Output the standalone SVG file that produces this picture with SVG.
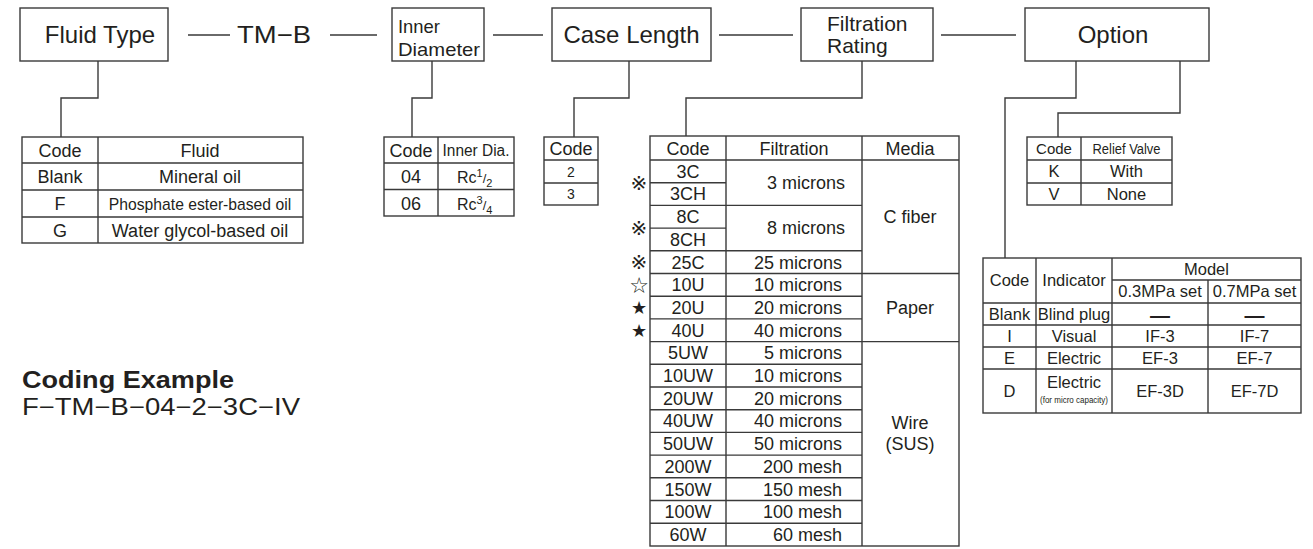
<svg xmlns="http://www.w3.org/2000/svg" width="1313" height="549" viewBox="0 0 1313 549">
<style>
.box{fill:#fff;stroke:#3a3a3a;stroke-width:1.4}
.ln{fill:none;stroke:#3a3a3a;stroke-width:1.4}
.t{font-family:"Liberation Sans",Arial,sans-serif;fill:#231f20}
.m{text-anchor:middle}
.e{text-anchor:end}
.h{font-size:24px}
.f18{font-size:18px}
.f16{font-size:16.5px}
.f15{font-size:15px}
.f14{font-size:14px}
.sym{font-family:"DejaVu Sans","Noto Sans CJK JP",sans-serif;fill:#231f20;text-anchor:middle}
</style>
<rect width="1313" height="549" fill="#fff"/>

<g id="connectors" class="ln">
<path d="M188 35H230M330 35H377M493 35H543M719 35H793M941 35H1016"/>
<path d="M98 61V98H61V137"/>
<path d="M432 61V98H412V137"/>
<path d="M629 61V98H574V137"/>
<path d="M862 61V98H686V136"/>
<path d="M1076 61V98H1005V258"/>
<path d="M1180 61V113H1058V137"/>
</g>

<g id="node-fluid-type">
<rect class="box" x="20" y="8" width="148" height="53"/>
<text class="t h m" x="100" y="43">Fluid Type</text>
</g>
<g id="node-tmb">
<text class="t h m" x="274" y="43" textLength="74" lengthAdjust="spacingAndGlyphs">TM−B</text>
</g>
<g id="node-inner-diameter">
<rect class="box" x="392" y="8" width="92" height="53"/>
<text class="t" x="398" y="33" style="font-size:19px" textLength="42" lengthAdjust="spacingAndGlyphs">Inner</text>
<text class="t" x="398" y="56" style="font-size:19px" textLength="82" lengthAdjust="spacingAndGlyphs">Diameter</text>
</g>
<g id="node-case-length">
<rect class="box" x="552" y="8" width="159" height="53"/>
<text class="t h m" x="631.5" y="43">Case Length</text>
</g>
<g id="node-filtration-rating">
<rect class="box" x="801" y="8" width="132" height="53"/>
<text class="t" x="827" y="31" style="font-size:21px">Filtration</text>
<text class="t" x="827" y="53" style="font-size:21px">Rating</text>
</g>
<g id="node-option">
<rect class="box" x="1025" y="8" width="184" height="53"/>
<text class="t h m" x="1113" y="43">Option</text>
</g>

<g id="table-fluid">
<rect class="box" x="22" y="137" width="281" height="106"/>
<path class="ln" d="M98 137V243M22 163H303M22 190H303M22 217H303"/>
<g class="t m f18">
<text x="60" y="156.5">Code</text><text x="200" y="156.5">Fluid</text>
<text x="60" y="183">Blank</text><text x="200" y="183">Mineral oil</text>
<text x="60" y="210">F</text><text x="200" y="210" style="font-size:15.7px">Phosphate ester-based oil</text>
<text x="60" y="236.5">G</text><text x="200" y="236.5">Water glycol-based oil</text>
</g>
</g>

<g id="table-inner-diameter">
<rect class="box" x="384" y="137" width="130" height="79"/>
<path class="ln" d="M438 137V216M384 163H514M384 189.5H514"/>
<text class="t m f18" x="411" y="156.5">Code</text>
<text class="t m" x="476" y="156" style="font-size:16px" textLength="67" lengthAdjust="spacingAndGlyphs">Inner Dia.</text>
<text class="t m f18" x="411" y="183">04</text>
<text class="t m f18" x="411" y="209.5">06</text>
<text class="t" x="457" y="183" style="font-size:16px">Rc<tspan style="font-size:11px" y="177">1</tspan><tspan style="font-size:13px" y="183">/</tspan><tspan style="font-size:11px" y="187">2</tspan></text>
<text class="t" x="457" y="209.5" style="font-size:16px">Rc<tspan style="font-size:11px" y="203.5">3</tspan><tspan style="font-size:13px" y="209.5">/</tspan><tspan style="font-size:11px" y="213.5">4</tspan></text>
</g>

<g id="table-case-length">
<rect class="box" x="544" y="137" width="54" height="68"/>
<path class="ln" d="M544 160H598M544 183H598"/>
<text class="t m f18" x="571" y="154.5">Code</text>
<text class="t m f14" x="571" y="176.5">2</text>
<text class="t m f14" x="571" y="199">3</text>
</g>

<g id="table-filtration">
<rect class="box" x="650" y="136" width="309" height="410"/>
<path class="ln" d="M726 136V546M862 136V546M650 160H959M650 273.5H959M650 341.6H959M650 182.7H726M650 228.1H726M650 205.4H862M650 250.8H862M650 296.2H862M650 318.9H862M650 364.3H862M650 387H862M650 409.7H862M650 432.4H862M650 455.1H862M650 477.8H862M650 500.5H862M650 523.2H862"/>
<g class="t m f18">
<text x="688" y="154.5">Code</text><text x="794" y="154.5">Filtration</text><text x="910" y="154.5">Media</text>
<text x="688" y="177.7">3C</text>
<text x="688" y="200.4">3CH</text>
<text x="688" y="223.1">8C</text>
<text x="688" y="245.8">8CH</text>
<text x="688" y="268.5">25C</text>
<text x="688" y="291.2">10U</text>
<text x="688" y="313.9">20U</text>
<text x="688" y="336.6">40U</text>
<text x="688" y="359.3">5UW</text>
<text x="688" y="382">10UW</text>
<text x="688" y="404.7">20UW</text>
<text x="688" y="427.4">40UW</text>
<text x="688" y="450.1">50UW</text>
<text x="688" y="472.8">200W</text>
<text x="688" y="495.5">150W</text>
<text x="688" y="518.2">100W</text>
<text x="688" y="540.9">60W</text>
<text x="910" y="223">C fiber</text>
<text x="910" y="314">Paper</text>
<text x="910" y="429">Wire</text>
<text x="910" y="450">(SUS)</text>
</g>
<g class="t e f18">
<text x="845" y="189">3 microns</text>
<text x="845" y="234.4">8 microns</text>
<text x="842" y="268.5">25 microns</text>
<text x="842" y="291.2">10 microns</text>
<text x="842" y="313.9">20 microns</text>
<text x="842" y="336.6">40 microns</text>
<text x="842" y="359.3">5 microns</text>
<text x="842" y="382">10 microns</text>
<text x="842" y="404.7">20 microns</text>
<text x="842" y="427.4">40 microns</text>
<text x="842" y="450.1">50 microns</text>
<text x="842" y="472.8">200 mesh</text>
<text x="842" y="495.5">150 mesh</text>
<text x="842" y="518.2">100 mesh</text>
<text x="842" y="540.9">60 mesh</text>
</g>
<text class="sym" x="639" y="189.5" style="font-size:20px">※</text>
<text class="sym" x="639" y="235" style="font-size:20px">※</text>
<text class="sym" x="639" y="269" style="font-size:20px">※</text>
<text class="sym" x="639" y="292.5" style="font-size:22px">☆</text>
<text class="sym" x="639" y="314" style="font-size:18px">★</text>
<text class="sym" x="639" y="337" style="font-size:18px">★</text>
</g>

<g id="table-relief-valve">
<rect class="box" x="1027" y="137" width="145" height="68"/>
<path class="ln" d="M1081 137V205M1027 160H1172M1027 183H1172"/>
<text class="t m f15" x="1054" y="154">Code</text>
<text class="t m f14" x="1126.5" y="154" textLength="68" lengthAdjust="spacingAndGlyphs">Relief Valve</text>
<text class="t m f16" x="1054" y="177">K</text><text class="t m f16" x="1126.5" y="177">With</text>
<text class="t m f16" x="1054" y="199.5">V</text><text class="t m f16" x="1126.5" y="199.5">None</text>
</g>

<g id="table-indicator">
<rect class="box" x="983" y="258" width="318" height="155"/>
<path class="ln" d="M1036 258V413M1112 258V413M1208 280V413M1112 280H1301M983 303H1301M983 325H1301M983 347H1301M983 369H1301"/>
<g class="t m f16">
<text x="1009.5" y="286">Code</text><text x="1074" y="286">Indicator</text>
<text x="1206.5" y="275">Model</text>
<text x="1160" y="297">0.3MPa set</text><text x="1254.5" y="297">0.7MPa set</text>
<text x="1009.5" y="320">Blank</text><text x="1074" y="320">Blind plug</text>
<text x="1160" y="322" style="font-size:20px;font-weight:bold">—</text><text x="1254.5" y="322" style="font-size:20px;font-weight:bold">—</text>
<text x="1009.5" y="342">I</text><text x="1074" y="342">Visual</text><text x="1160" y="342">IF-3</text><text x="1254.5" y="342">IF-7</text>
<text x="1009.5" y="364">E</text><text x="1074" y="364">Electric</text><text x="1160" y="364">EF-3</text><text x="1254.5" y="364">EF-7</text>
<text x="1009.5" y="397">D</text><text x="1074" y="388">Electric</text><text x="1160" y="397">EF-3D</text><text x="1254.5" y="397">EF-7D</text>
</g>
<text class="t m" x="1074" y="403" style="font-size:9px" textLength="68" lengthAdjust="spacingAndGlyphs">(for micro capacity)</text>
</g>

<g id="coding-example">
<text class="t" x="22" y="388" style="font-size:23px;font-weight:bold" textLength="212" lengthAdjust="spacingAndGlyphs">Coding Example</text>
<text class="t" x="22" y="415" style="font-size:23px" textLength="278" lengthAdjust="spacingAndGlyphs">F−TM−B−04−2−3C−IV</text>
</g>
</svg>
